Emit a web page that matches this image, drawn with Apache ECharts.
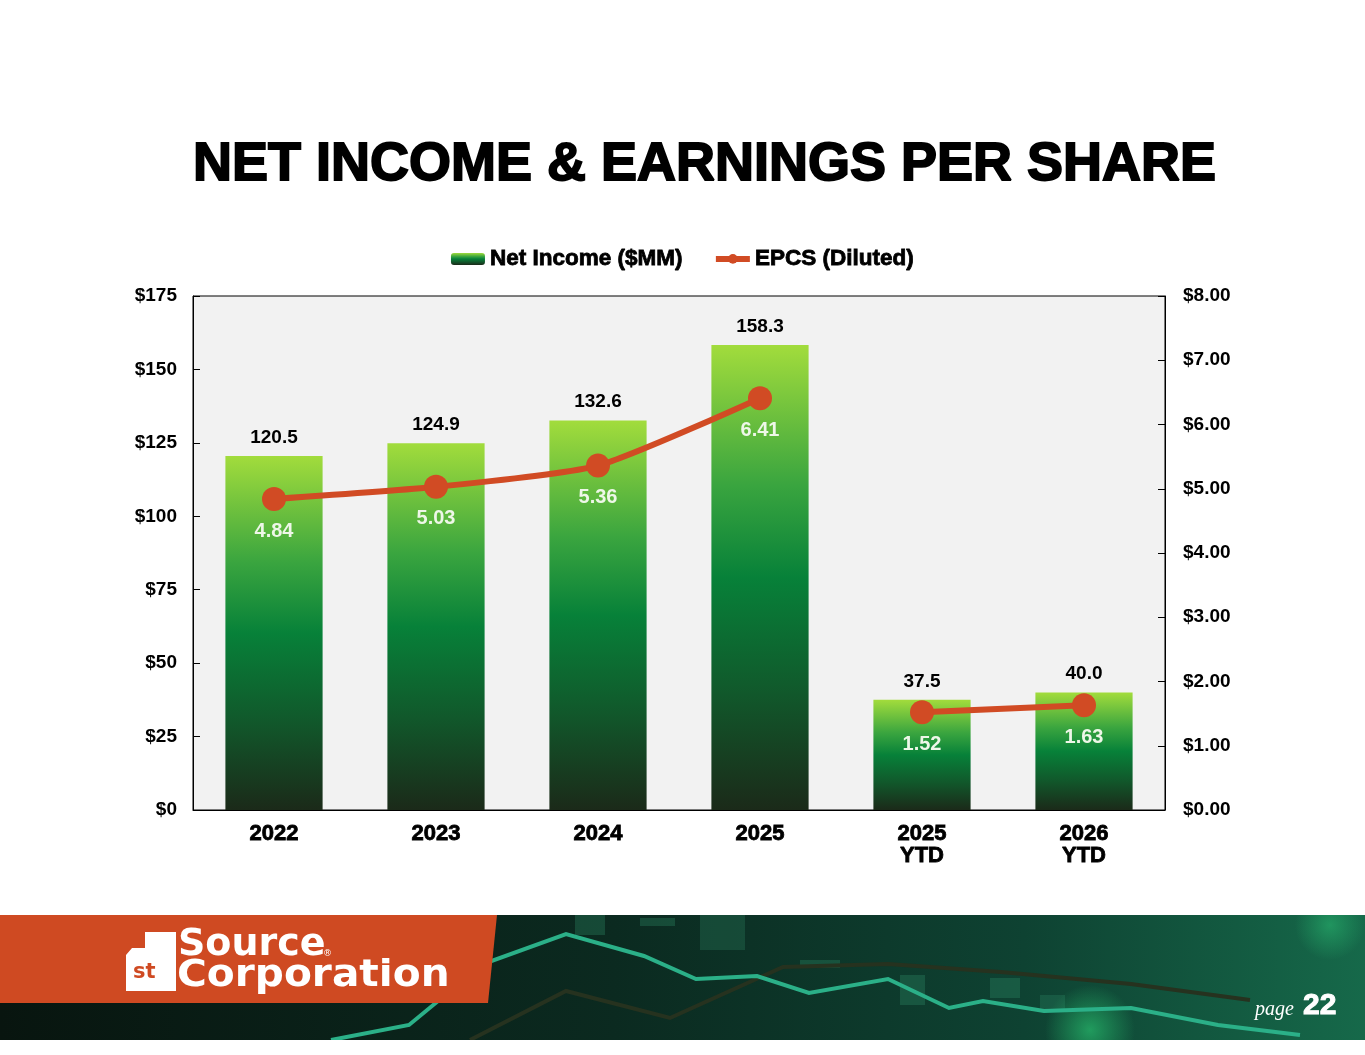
<!DOCTYPE html>
<html>
<head>
<meta charset="utf-8">
<title>Net Income & Earnings Per Share</title>
<script src="https://cdn.jsdelivr.net/npm/echarts@6/dist/echarts.min.js"></script>
<style>
  html, body { margin: 0; padding: 0; background: #fff; }
  #chart { width: 1365px; height: 1055px; }
</style>
</head>
<body>
<div id="chart"></div>
<script>
// data
var categories = ['2022', '2023', '2024', '2025', '2025\nYTD', '2026\nYTD'];
var netIncome = [120.5, 124.9, 132.6, 158.3, 37.5, 40.0];
var epsAnnual = [4.84, 5.03, 5.36, 6.41, '-', '-'];
var epsYtd = ['-', '-', '-', '-', 1.52, 1.63];
var leftTicks = [0, 175, 25];   // min, max, step
var rightTicks = [0, 8, 1];

var FONT = 'Liberation Sans, Arial, sans-serif';
var ORANGE = '#d14b24';

var chart = echarts.init(document.getElementById('chart'));

var barFill = new echarts.graphic.LinearGradient(0, 0, 0, 1, [
    {offset: 0, color: '#a2dc3c'},
    {offset: 0.3, color: '#3aa53f'},
    {offset: 0.5, color: '#078139'},
    {offset: 0.75, color: '#11582b'},
    {offset: 1, color: '#1b2a19'}
]);

var epsLabel = {
    show: true,
    position: 'bottom',
    distance: 10,
    color: '#eef7e8',
    fontFamily: FONT,
    fontWeight: 'bold',
    fontSize: 20,
    formatter: function (p) { return p.value.toFixed(2); }
};

// heavy "black" look: bold face plus a thin outline
var heavy = {fontFamily: FONT, fontWeight: 'bold', color: '#000', textBorderColor: '#000', textBorderWidth: 0.8};

var option = {
    backgroundColor: '#fff',
    animation: false,
    title: {
        text: 'NET INCOME & EARNINGS PER SHARE',
        left: 188,
        top: 133,
        textStyle: {fontFamily: FONT, fontWeight: 'bold', fontSize: 54, color: '#000',
            textBorderColor: '#000', textBorderWidth: 1.8}
    },
    legend: {
        top: 242,
        left: 'center',
        itemWidth: 34,
        itemHeight: 12,
        itemGap: 30,
        lineStyle: {width: 6},
        textStyle: Object.assign({fontSize: 22.5}, heavy),
        data: ['Net Income ($MM)', 'EPCS (Diluted)']
    },
    grid: {
        left: 193, right: 200, top: 296, bottom: 245,
        show: true, backgroundColor: '#f2f2f2', borderColor: '#000', borderWidth: 1
    },
    xAxis: {
        type: 'category',
        data: categories,
        axisLine: {lineStyle: {color: '#000', width: 1}},
        axisTick: {inside: true, length: 7, lineStyle: {color: '#000'}},
        axisLabel: Object.assign({fontSize: 22, margin: 13, lineHeight: 22}, heavy)
    },
    yAxis: [
        {
            type: 'value',
            min: leftTicks[0], max: leftTicks[1], interval: leftTicks[2],
            splitLine: {show: false},
            axisLine: {show: true, lineStyle: {color: '#000'}},
            axisTick: {show: true, inside: true, length: 7, lineStyle: {color: '#000'}},
            axisLabel: {
                color: '#000', fontFamily: FONT, fontWeight: 'bold', fontSize: 19, margin: 16,
                formatter: function (v) { return '$' + v; }
            }
        },
        {
            type: 'value',
            min: rightTicks[0], max: rightTicks[1], interval: rightTicks[2],
            splitLine: {show: false},
            axisLine: {show: true, lineStyle: {color: '#000'}},
            axisTick: {show: true, inside: true, length: 7, lineStyle: {color: '#000'}},
            axisLabel: {
                color: '#000', fontFamily: FONT, fontWeight: 'bold', fontSize: 19, margin: 18,
                formatter: function (v) { return '$' + v.toFixed(2); }
            }
        }
    ],
    series: [
        {
            name: 'Net Income ($MM)',
            type: 'bar',
            barWidth: '60%',
            data: netIncome,
            itemStyle: {color: barFill},
            label: {
                show: true, position: 'top', distance: 9,
                color: '#000', fontFamily: FONT, fontWeight: 'bold', fontSize: 19,
                formatter: function (p) { return p.value.toFixed(1); }
            }
        },
        {
            name: 'EPCS (Diluted)',
            type: 'line',
            yAxisIndex: 1,
            data: epsAnnual,
            smooth: 0.2,
            symbol: 'circle',
            symbolSize: 24,
            z: 5,
            lineStyle: {color: ORANGE, width: 6},
            itemStyle: {color: ORANGE},
            label: epsLabel
        },
        {
            name: 'EPCS (Diluted)',
            type: 'line',
            yAxisIndex: 1,
            data: epsYtd,
            symbol: 'circle',
            symbolSize: 24,
            z: 5,
            lineStyle: {color: ORANGE, width: 6},
            itemStyle: {color: ORANGE},
            label: epsLabel
        }
    ],
    graphic: [
        // footer band
        {
            type: 'rect', z: 1,
            shape: {x: 0, y: 915, width: 1365, height: 125},
            style: {
                fill: new echarts.graphic.LinearGradient(0, 0, 1, 0, [
                    {offset: 0, color: '#08150f'},
                    {offset: 0.45, color: '#0b2a20'},
                    {offset: 0.75, color: '#0e4232'},
                    {offset: 1, color: '#16694a'}
                ])
            }
        },
        {
            type: 'ellipse', z: 1,
            shape: {cx: 1090, cy: 1030, rx: 130, ry: 45},
            style: {
                fill: new echarts.graphic.RadialGradient(0.5, 0.5, 0.5, [
                    {offset: 0, color: 'rgba(40,190,110,0.7)'},
                    {offset: 1, color: 'rgba(40,190,110,0)'}
                ])
            }
        },
        {
            type: 'ellipse', z: 1,
            shape: {cx: 1330, cy: 925, rx: 100, ry: 35},
            style: {
                fill: new echarts.graphic.RadialGradient(0.5, 0.5, 0.5, [
                    {offset: 0, color: 'rgba(40,180,110,0.6)'},
                    {offset: 1, color: 'rgba(40,180,110,0)'}
                ])
            }
        },
        // faint candles
        {type: 'rect', z: 1, shape: {x: 575, y: 915, width: 30, height: 20}, style: {fill: 'rgba(50,150,110,0.3)'}},
        {type: 'rect', z: 1, shape: {x: 640, y: 918, width: 35, height: 8}, style: {fill: 'rgba(50,150,110,0.3)'}},
        {type: 'rect', z: 1, shape: {x: 700, y: 915, width: 45, height: 35}, style: {fill: 'rgba(50,150,110,0.25)'}},
        {type: 'rect', z: 1, shape: {x: 800, y: 960, width: 40, height: 8}, style: {fill: 'rgba(50,150,110,0.3)'}},
        {type: 'rect', z: 1, shape: {x: 900, y: 975, width: 25, height: 30}, style: {fill: 'rgba(50,150,110,0.3)'}},
        {type: 'rect', z: 1, shape: {x: 990, y: 978, width: 30, height: 20}, style: {fill: 'rgba(50,150,110,0.3)'}},
        {type: 'rect', z: 1, shape: {x: 1040, y: 995, width: 25, height: 14}, style: {fill: 'rgba(50,150,110,0.25)'}},
        // chart lines in the banner
        {
            type: 'polyline', z: 2,
            shape: {points: [[470, 1040], [566, 991], [670, 1018], [783, 967], [888, 964], [1001, 972], [1131, 984], [1250, 1000]]},
            style: {stroke: '#26321f', lineWidth: 4, fill: null}
        },
        {
            type: 'polyline', z: 2,
            shape: {points: [[331, 1040], [409, 1025], [483, 964], [566, 934], [644, 956], [696, 979], [757, 976], [809, 993], [888, 979], [949, 1008], [983, 1001], [1044, 1011], [1131, 1008], [1218, 1025], [1300, 1035]]},
            style: {stroke: '#2bb088', lineWidth: 4, fill: null}
        },
        // keep the glows inside the band
        {type: 'rect', z: 3, shape: {x: 0, y: 880, width: 1365, height: 35}, style: {fill: '#fff'}},
        {type: 'rect', z: 3, shape: {x: 0, y: 1040, width: 1365, height: 15}, style: {fill: '#fff'}},
        // orange logo block
        {
            type: 'polygon', z: 3,
            shape: {points: [[0, 915], [497, 915], [488, 1003], [0, 1003]]},
            style: {fill: '#cf4a22'}
        },
        {
            type: 'polygon', z: 4,
            shape: {points: [[145, 932], [176, 932], [176, 991], [126, 991], [126, 955], [132, 948], [145, 948]]},
            style: {fill: '#fff'}
        },
        {
            type: 'text', z: 5, x: 133, y: 962,
            style: {text: 'st', fill: '#cf4a22', font: 'bold 21px DejaVu Sans, sans-serif'}
        },
        {
            type: 'text', z: 5, x: 178, y: 926,
            style: {text: 'Source', fill: '#fff', font: 'bold 38px DejaVu Sans, sans-serif'}
        },
        {
            type: 'text', z: 5, x: 323, y: 949,
            style: {text: '®', fill: '#fff', font: '9px DejaVu Sans, sans-serif'}
        },
        {
            type: 'text', z: 5, x: 177, y: 957, scaleX: 1.07,
            style: {text: 'Corporation', fill: '#fff', font: 'bold 38px DejaVu Sans, sans-serif'}
        },
        // page number
        {
            type: 'text', z: 5, x: 1255, y: 1000,
            style: {text: 'page', fill: '#fff', font: 'italic 20px Liberation Serif, serif'}
        },
        {
            type: 'text', z: 5, x: 1303, y: 991,
            style: {text: '22', fill: '#fff', font: 'bold 30px Liberation Sans, Arial, sans-serif',
                stroke: '#fff', lineWidth: 1}
        }
    ]
};

chart.setOption(option);
window.onresize = chart.resize;
</script>
</body>
</html>
